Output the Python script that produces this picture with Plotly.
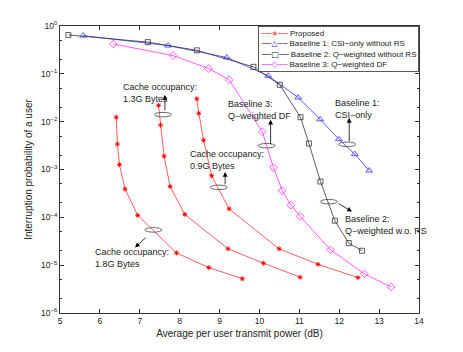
import plotly.graph_objects as go

# Proposed scheme, three cache occupancies
prop_18_x = [6.41, 6.44, 6.49, 6.63, 6.95, 7.92, 8.73, 9.57]
prop_18_y = [0.0124, 0.0034, 0.00126, 3.9e-4, 1.1e-4, 1.8e-5, 8.9e-6, 5.2e-6]
prop_13_x = [7.47, 7.52, 7.61, 7.76, 8.13, 9.21, 10.1, 11.02]
prop_13_y = [0.022, 0.0085, 0.0019, 4.4e-4, 1.15e-4, 2.2e-5, 1.1e-5, 5.6e-6]
prop_09_x = [8.43, 8.48, 8.6, 8.8, 9.24, 10.49, 11.47, 12.47]
prop_09_y = [0.03, 0.015, 0.0041, 7.4e-4, 1.5e-4, 2.2e-5, 1.04e-5, 5.5e-6]

b1_x = [5.58, 7.71, 9.18, 10.22, 10.97, 11.52, 11.99, 12.39, 12.75]
b1_y = [0.63, 0.39, 0.22, 0.091, 0.032, 0.0112, 0.0043, 0.0021, 9.5e-4]

b2_x = [5.21, 7.2, 8.43, 9.85, 10.51, 11.03, 11.24, 11.53, 11.89, 12.24, 12.57]
b2_y = [0.65, 0.46, 0.31, 0.14, 0.059, 0.0124, 0.0035, 5.6e-4, 8.5e-5, 2.9e-5, 2.0e-5]

b3_x = [6.34, 7.84, 8.72, 9.24, 10.07, 10.35, 10.57, 10.79, 11.02, 11.78, 12.63, 13.3]
b3_y = [0.42, 0.24, 0.13, 0.075, 0.0062, 0.0011, 3.6e-4, 1.8e-4, 1.05e-4, 2.1e-5, 6.6e-6, 3.5e-6]

names = ['Proposed', 'Baseline 1: CSI\u2212only without RS',
         'Baseline 2: Q\u2212weighted without RS', 'Baseline 3: Q\u2212weighted DF']
colors = ['#ff3333', '#3333ff', '#333333', '#ff33ff']
legend_glyphs = ['\u2217', '\u25b3', '\u25a1', '\u25c7']

y_tickvals = [1e-6, 1e-5, 1e-4, 1e-3, 1e-2, 1e-1, 1]
y_ticktext = ['10<sup>\u22126</sup>', '10<sup>\u22125</sup>', '10<sup>\u22124</sup>', '10<sup>\u22123</sup>',
              '10<sup>\u22122</sup>', '10<sup>\u22121</sup>', '10<sup>0</sup>']

font = "Liberation Sans, Arial, sans-serif"

fig = go.Figure()

red_curves = [(prop_18_x, prop_18_y), (prop_13_x, prop_13_y), (prop_09_x, prop_09_y)]
for xs, ys in red_curves:
    fig.add_trace(go.Scatter(x=xs, y=ys, mode='lines+markers', name=names[0],
                             line=dict(color=colors[0], width=0.8),
                             marker=dict(symbol='asterisk-open', size=4, color='#ff0000',
                                         line=dict(width=1, color='#ff0000'))))

fig.add_trace(go.Scatter(x=b1_x, y=b1_y, mode='lines+markers', name=names[1],
                         line=dict(color=colors[1], width=0.8),
                         marker=dict(symbol='triangle-up-open', size=6, color=colors[1], line=dict(width=0.8))))
fig.add_trace(go.Scatter(x=b2_x, y=b2_y, mode='lines+markers', name=names[2],
                         line=dict(color=colors[2], width=0.8),
                         marker=dict(symbol='square-open', size=5, color=colors[2], line=dict(width=0.8))))
fig.add_trace(go.Scatter(x=b3_x, y=b3_y, mode='lines+markers', name=names[3],
                         line=dict(color=colors[3], width=0.8),
                         marker=dict(symbol='diamond-open', size=6, color=colors[3], line=dict(width=0.8))))

# compact MATLAB-style legend box
legend_lines = []
for name, c, g in zip(names, colors, legend_glyphs):
    legend_lines.append("<span style='color:%s;font-family:DejaVu Sans'>\u2500\u2500%s\u2500\u2500</span> %s"
                        % (c, g, name))
fig.add_annotation(xref='paper', yref='paper', x=1, y=1, xanchor='right', yanchor='top',
                   text='<br>'.join(legend_lines), showarrow=False, align='left',
                   bgcolor='white', bordercolor='#333333', borderwidth=0.8, borderpad=2,
                   font=dict(size=8, family=font, color='#222222'))

# ellipses marking groups of curves (x, log10 y)
ellipses = [(7.58, -1.90), (8.98, -3.42), (10.18, -2.55), (12.2, -2.52), (11.74, -3.72), (7.34, -4.31)]
for ex, ey in ellipses:
    fig.add_shape(type='circle', xref='x', yref='y', xsizemode='pixel', ysizemode='pixel',
                  xanchor=ex, yanchor=10 ** ey, x0=-8.5, x1=8.5, y0=-4.5, y1=4.5,
                  line=dict(color='#444444', width=0.8))

# arrows: head position (x, log10 y), tail offset in px
arrows = [(7.63, -1.44, 0, 17), (9.14, -3.05, 0, 14), (10.28, -1.96, 0, 26),
          (12.25, -1.92, 0, 25), (12.32, -3.88, -15, -9), (6.88, -4.63, 12, -11)]
for hx, hy, ax, ay in arrows:
    fig.add_annotation(x=hx, y=hy, ax=ax, ay=ay, text='', showarrow=True,
                       arrowhead=2, arrowsize=1.2, arrowwidth=0.8, arrowcolor='black')

labels = [(6.53, -1.40, 'Cache occupancy:<br>1.3G Bytes'),
          (8.21, -2.80, 'Cache occupancy:<br>0.9G Bytes'),
          (9.16, -1.75, 'Baseline 3:<br>Q\u2212weighted DF'),
          (11.84, -1.73, 'Baseline 1:<br>CSI\u2212only'),
          (12.09, -4.15, 'Baseline 2:<br>Q\u2212weighted w.o. RS'),
          (5.83, -4.84, 'Cache occupancy:<br>1.8G Bytes')]
for tx, ty, t in labels:
    fig.add_annotation(x=tx, y=ty, text=t, showarrow=False, xanchor='left', yanchor='middle',
                       align='left', font=dict(size=9, color='#222222', family=font))

axis_style = dict(showline=True, linecolor='#333333', linewidth=1, mirror='allticks',
                  ticks='inside', ticklen=4, tickcolor='#333333', showgrid=False, zeroline=False,
                  tickfont=dict(size=8.5, color='#222222', family=font))

fig.update_xaxes(range=[5, 14], dtick=1,
                 title=dict(text='Average per user transmit power (dB)', standoff=4,
                            font=dict(size=10, color='#222222', family=font)),
                 **axis_style)
fig.update_yaxes(type='log', range=[-6, 0], tickvals=y_tickvals, ticktext=y_ticktext,
                 minor=dict(ticks='inside', ticklen=2, tickcolor='#333333', showgrid=False),
                 title=dict(text='Interruption probability of a user', standoff=6,
                            font=dict(size=10, color='#222222', family=font)),
                 **axis_style)

# page body adds an 8px offset, so the figure is drawn 8px smaller
fig.update_layout(
    width=455, height=344,
    margin=dict(l=52, r=44, t=18, b=39),
    paper_bgcolor='white', plot_bgcolor='white',
    font=dict(family=font, size=8.5, color='#222222'),
    showlegend=False,
)

fig.write_html("out.html")
